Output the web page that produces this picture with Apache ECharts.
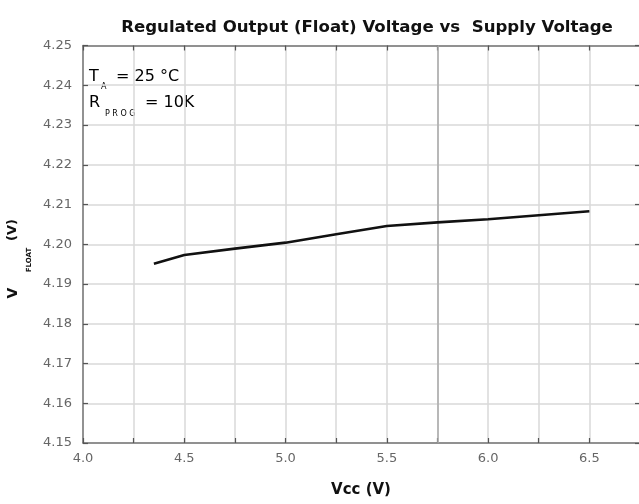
<!DOCTYPE html>
<html>
<head>
<meta charset="utf-8">
<script src="https://cdn.jsdelivr.net/npm/echarts@6/dist/echarts.min.js"></script>
<style>
html,body{margin:0;padding:0;background:#fff;}
#chart{width:639px;height:504px;}
</style>
</head>
<body>
<div id="chart"></div>
<script>
// Data
const vccValues = [4.35, 4.5, 4.75, 5.0, 5.25, 5.5, 5.75, 6.0, 6.25, 6.5];
const vFloatValues = [4.1951, 4.1973, 4.1989, 4.2004, 4.2025, 4.2046, 4.2055, 4.2063, 4.2073, 4.2083];
const xMin = 4.0, xMax = 6.75, xStep = 0.25;
const yMin = 4.15, yMax = 4.25, yStep = 0.01;
const highlightX = [5.75];
const titleText = 'Regulated Output (Float) Voltage vs  Supply Voltage';

const chart = echarts.init(document.getElementById('chart'), null, {renderer: 'canvas'});
const FONT = 'DejaVu Sans';
const gridLine = {show: true, lineStyle: {color: '#d8d8d8', width: 1.5}};
const axisLineStyle = {show: true, lineStyle: {color: '#777', width: 1.5}};
const tickStyle = {show: true, inside: true, length: 5, lineStyle: {color: '#555', width: 1.2}};

const xLabelFmt = v => (Math.abs(v * 2 - Math.round(v * 2)) < 1e-6 && v < 6.7) ? v.toFixed(1) : '';

const option = {
  backgroundColor: '#fff',
  animation: false,
  title: {
    text: titleText,
    left: 362, top: 14, textAlign: 'center',
    textStyle: {fontFamily: FONT, fontWeight: 'bold', fontSize: 16.6, color: '#111'}
  },
  grid: {left: 83, width: 557, top: 45.5, bottom: 61, containLabel: false, outerBoundsMode: 'none'},
  xAxis: [{
    type: 'value', min: xMin, max: xMax, interval: xStep,
    axisLine: axisLineStyle, axisTick: tickStyle, splitLine: gridLine,
    axisLabel: {formatter: xLabelFmt, fontFamily: FONT, fontSize: 13, color: '#666', margin: 9}
  }, {
    type: 'value', position: 'top', min: xMin, max: xMax, interval: xStep,
    axisLine: axisLineStyle, axisTick: tickStyle, splitLine: {show: false},
    axisLabel: {show: false}
  }],
  yAxis: [{
    type: 'value', min: yMin, max: yMax, interval: yStep,
    axisLine: axisLineStyle, axisTick: tickStyle, splitLine: gridLine,
    axisLabel: {formatter: v => v.toFixed(2), fontFamily: FONT, fontSize: 13, color: '#666', margin: 11}
  }, {
    type: 'value', position: 'right', min: yMin, max: yMax, interval: yStep,
    axisLine: axisLineStyle, axisTick: tickStyle, splitLine: {show: false},
    axisLabel: {show: false}
  }],
  series: [{
    type: 'line',
    data: vccValues.map((x, i) => [x, vFloatValues[i]]),
    showSymbol: false, symbol: 'none',
    lineStyle: {color: '#111', width: 2.6},
    z: 5,
    markLine: {
      silent: true, symbol: 'none', label: {show: false},
      lineStyle: {color: '#aaa', width: 1.5, type: 'solid'},
      data: highlightX.map(v => ({xAxis: v}))
    }
  }],
  graphic: [
    // annotations
    {type: 'text', x: 89, y: 77, style: {text: 'T', font: '16px "DejaVu Sans"', fill: '#000', textAlign: 'left', textVerticalAlign: 'middle'}},
    {type: 'text', x: 101, y: 87, style: {text: 'A', font: '8px "DejaVu Sans"', fill: '#000', textAlign: 'left', textVerticalAlign: 'middle'}},
    {type: 'text', x: 116, y: 77, style: {text: '= 25 °C', font: '16px "DejaVu Sans"', fill: '#000', textAlign: 'left', textVerticalAlign: 'middle'}},
    {type: 'text', x: 89, y: 103, style: {text: 'R', font: '16px "DejaVu Sans"', fill: '#000', textAlign: 'left', textVerticalAlign: 'middle'}},
    {type: 'text', x: 105, y: 114, style: {text: 'P R O G', font: '8px "DejaVu Sans"', fill: '#000', textAlign: 'left', textVerticalAlign: 'middle'}},
    {type: 'text', x: 145, y: 103, style: {text: '= 10K', font: '16px "DejaVu Sans"', fill: '#000', textAlign: 'left', textVerticalAlign: 'middle'}},
    // x axis name
    {type: 'text', x: 361, y: 490, style: {text: 'Vcc (V)', font: 'bold 15px "DejaVu Sans"', fill: '#111', textAlign: 'center', textVerticalAlign: 'middle'}},
    // y axis name (rotated)
    {type: 'text', x: 13, y: 293, rotation: Math.PI / 2, style: {text: 'V', font: 'bold 14px "DejaVu Sans"', fill: '#111', textAlign: 'center', textVerticalAlign: 'middle'}},
    {type: 'text', x: 29.5, y: 260, rotation: Math.PI / 2, style: {text: 'FLOAT', font: 'bold 7px "DejaVu Sans"', fill: '#111', textAlign: 'center', textVerticalAlign: 'middle'}},
    {type: 'text', x: 13, y: 230, rotation: Math.PI / 2, style: {text: '(V)', font: 'bold 13px "DejaVu Sans"', fill: '#111', textAlign: 'center', textVerticalAlign: 'middle'}}
  ]
};
chart.setOption(option);
</script>
</body>
</html>
